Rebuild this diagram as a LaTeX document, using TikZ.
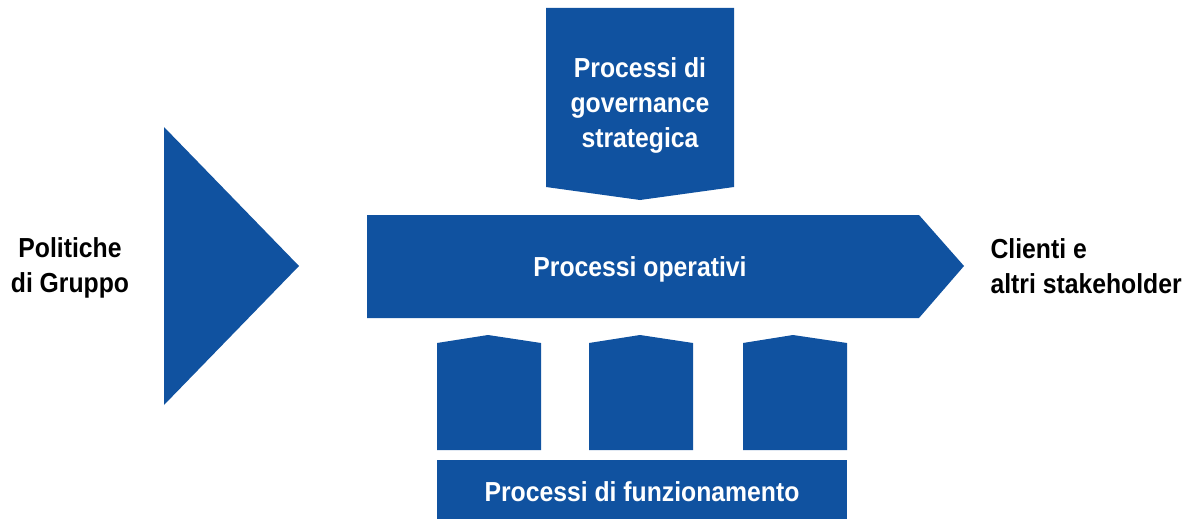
\documentclass[tikz,border=0pt]{standalone}
\usepackage{fontspec}
\setmainfont{Liberation Sans}[FakeStretch=0.9]
\usepackage{tikz}

\definecolor{procblue}{RGB}{16,82,160}
\tikzset{
  procfill/.style={fill=procblue},
  proctext/.style={text=white,font=\fontsize{27.5}{35}\selectfont\bfseries,align=center},
  sidetext/.style={text=black,font=\fontsize{27.5}{35}\selectfont\bfseries}
}

\begin{document}
\begin{tikzpicture}[x=1pt,y=-1pt]
\useasboundingbox (0,0) rectangle (1195,519);

\node[sidetext,align=center] (pol) at (70,268) {Politiche\\di Gruppo};
\fill[procfill] (164,127) -- (299,266) -- (164,405) -- cycle;

\fill[procfill] (546,8) -- (734,8) -- (734,187) -- (640,200) -- (546,187) -- cycle;
\node[proctext] (gov) at (640,105) {Processi di\\governance\\strategica};

\fill[procfill] (367,215) -- (919,215) -- (964,266) -- (919,318) -- (367,318) -- cycle;
\node[proctext] (oper) at (640,269) {Processi operativi};

\fill[procfill] (437,343) -- (488,335) -- (541,343) -- (541,450) -- (437,450) -- cycle;
\fill[procfill] (589,343) -- (640,335) -- (693,343) -- (693,450) -- (589,450) -- cycle;
\fill[procfill] (743,343) -- (793,335) -- (847,343) -- (847,450) -- (743,450) -- cycle;

\fill[procfill] (437,460) rectangle (847,519);
\node[proctext] (funz) at (642,492) {Processi di funzionamento};

\node[sidetext,align=left,anchor=west] (clienti) at (987,266) {Clienti e\\altri stakeholder};

\end{tikzpicture}
\end{document}
